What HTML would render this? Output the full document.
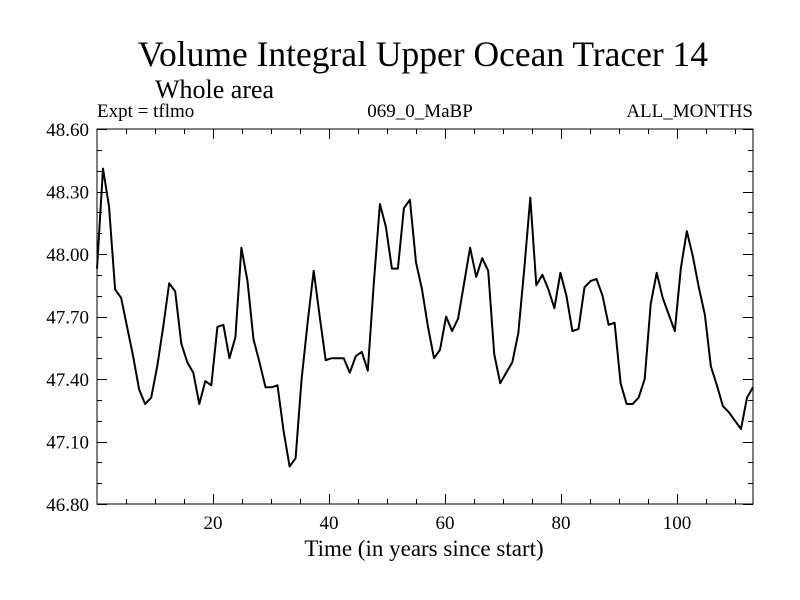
<!DOCTYPE html>
<html><head><meta charset="utf-8"><style>
html,body{margin:0;padding:0;background:#fff}
svg{display:block}
text{font-family:"Liberation Serif",serif;fill:#000}
</style></head><body>
<svg id="chart" width="800" height="600" viewBox="0 0 800 600" xmlns="http://www.w3.org/2000/svg">
<text x="423" y="66" font-size="35.5" text-anchor="middle">Volume Integral Upper Ocean Tracer 14</text>
<text x="155" y="98" font-size="26">Whole area</text>
<text x="97" y="117" font-size="19">Expt = tflmo</text>
<text x="420" y="117" font-size="19" text-anchor="middle">069_0_MaBP</text>
<text x="753" y="117" font-size="19" text-anchor="end">ALL_MONTHS</text>
<text x="424" y="556" font-size="23" text-anchor="middle">Time (in years since start)</text>
<g id="axes"></g>
<path id="series" fill="none" stroke="#000" stroke-width="2" stroke-linejoin="round"/>
<rect x="97" y="129" width="656" height="375" fill="none" stroke="#000" stroke-width="1"/>
</svg>
<script>
const values = [47.93,48.41,48.23,47.83,47.79,47.65,47.51,47.35,47.28,47.31,
47.46,47.65,47.86,47.82,47.57,47.48,47.43,47.28,47.39,47.37,
47.65,47.66,47.50,47.60,48.03,47.87,47.59,47.48,47.36,47.36,
47.37,47.15,46.98,47.02,47.40,47.67,47.92,47.70,47.49,47.50,
47.50,47.50,47.43,47.51,47.53,47.44,47.86,48.24,48.13,47.93,
47.93,48.22,48.26,47.96,47.83,47.65,47.50,47.54,47.70,47.63,
47.69,47.86,48.03,47.89,47.98,47.92,47.52,47.38,47.43,47.48,
47.62,47.93,48.27,47.85,47.90,47.83,47.74,47.91,47.80,47.63,
47.64,47.84,47.87,47.88,47.80,47.66,47.67,47.38,47.28,47.28,
47.31,47.40,47.76,47.91,47.79,47.71,47.63,47.93,48.11,47.99,
47.84,47.71,47.46,47.37,47.27,47.24,47.20,47.16,47.31,47.36];
const xTicks = [20,40,60,80,100];
const yTicks = [48.60,48.30,48.00,47.70,47.40,47.10,46.80];
const xDomain = [0,113.1];
const yDomain = [46.8,48.6];
const timeStep = 1.0376;

const L=97,R=753,T=129,B=504;
function xs(t){return L+(t-xDomain[0])/(xDomain[1]-xDomain[0])*(R-L);}
function ys(v){return B-(v-yDomain[0])/(yDomain[1]-yDomain[0])*(B-T);}
const NS='http://www.w3.org/2000/svg';
const axes=document.getElementById('axes');
function line(x1,y1,x2,y2,name){
  const l=document.createElementNS(NS,'line');
  l.setAttribute('x1',x1);l.setAttribute('y1',y1);l.setAttribute('x2',x2);l.setAttribute('y2',y2);
  l.setAttribute('stroke','#000');l.setAttribute('stroke-width','1');
  
  
  axes.appendChild(l);
}
function txt(x,y,s,anchor,name){
  const t=document.createElementNS(NS,'text');
  t.setAttribute('x',x);t.setAttribute('y',y);t.setAttribute('font-size','19');
  t.setAttribute('text-anchor',anchor);t.textContent=s;
  
  
  axes.appendChild(t);
}
for(let t=5;t<xDomain[1];t+=5){
  const x=Math.round(xs(t))+0.5, major=(t%20===0), len=major?10:5;
  line(x,B,x,B-len,'x-tick');
  line(x,T,x,T+len,'x-tick-top');
}
xTicks.forEach(t=>txt(xs(t),529,String(t),'middle','x-tick-label'));
for(let k=0;k<=18;k++){
  const v=yDomain[0]+k*0.1, y=Math.round(ys(v))+0.5, major=(k%3===0), len=major?10:5;
  line(L,y,L+len,y,'y-tick');
  line(R,y,R-len,y,'y-tick-right');
}
yTicks.forEach(v=>txt(89,ys(v)+7,v.toFixed(2),'end','y-tick-label'));
let d='';
values.forEach((v,i)=>{d+=(i?'L':'M')+xs(i*timeStep).toFixed(1)+' '+ys(v).toFixed(1);});
document.getElementById('series').setAttribute('d',d);
</script>
</body></html>
